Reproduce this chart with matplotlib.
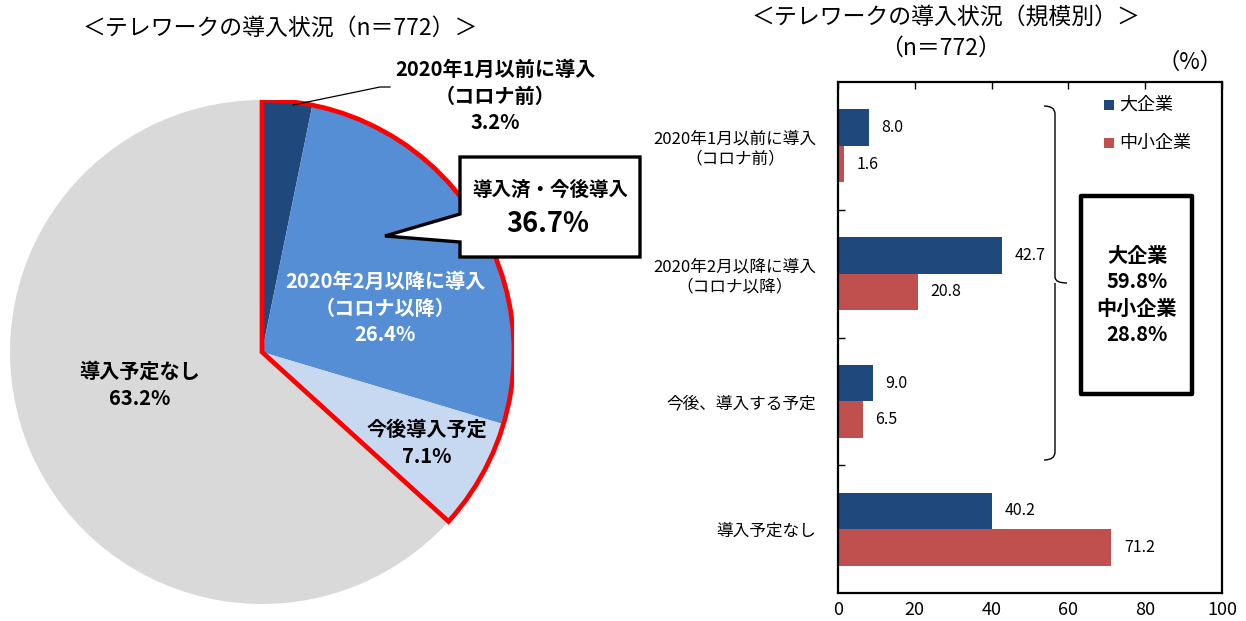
import numpy as np
import matplotlib.pyplot as plt
from matplotlib.patches import Wedge, Polygon, Rectangle, PathPatch
from matplotlib.path import Path

plt.rcParams['font.family'] = ['Noto Sans CJK JP', 'DejaVu Sans']

# pie data (全体 n=772)
pie_labels = ['2020年1月以前に導入\n（コロナ前）', '2020年2月以降に導入\n（コロナ以降）', '今後導入予定', '導入予定なし']
pie_values = [3.2, 26.4, 7.1, 63.2]
pie_colors = ['#1F497D', '#558ED5', '#C6D9F1', '#D9D9D9']

# bar data (規模別)
categories = ['2020年1月以前に導入\n（コロナ前）', '2020年2月以降に導入\n（コロナ以降）', '今後、導入する予定', '導入予定なし']
large = [8.0, 42.7, 9.0, 40.2]
small = [1.6, 20.8, 6.5, 71.2]
series_names = ['大企業', '中小企業']
bar_colors = ['#1F497D', '#C0504D']

W, H = 1246, 621
fig = plt.figure(figsize=(W / 100, H / 100), dpi=100)

# ---- pie ----
cx, cy, r = 262, 352, 252
axp = fig.add_axes([(cx - r) / W, (H - cy - r) / H, 2 * r / W, 2 * r / H])
wedges, _ = axp.pie(pie_values, colors=pie_colors, startangle=90, counterclock=False,
                    radius=1, wedgeprops=dict(linewidth=0))
axp.set_xlim(-1, 1)
axp.set_ylim(-1, 1)
axp.set_aspect('equal')
axp.axis('off')

# red outline around the introduced / planned share
total = sum(pie_values)
done_share = sum(pie_values[:3]) / total
outline = Wedge((0, 0), 1, 90 - done_share * 360, 90, fill=False, edgecolor='#FF0000',
                linewidth=3.4, joinstyle='miter', zorder=5)
axp.add_patch(outline)

# ---- bar chart ----
axb = fig.add_axes([838 / W, (H - 593) / H, (1222 - 838) / W, (593 - 82) / H])
y = np.arange(len(categories))
h = 0.286
axb.barh(y - h / 2, large, height=h, color=bar_colors[0], label=series_names[0])
axb.barh(y + h / 2, small, height=h, color=bar_colors[1], label=series_names[1])
for yi, v in zip(y - h / 2, large):
    axb.annotate(f'{v:.1f}', (v, yi), xytext=(9, 0), textcoords='offset points',
                 va='center', ha='left', fontsize=11.5)
for yi, v in zip(y + h / 2, small):
    axb.annotate(f'{v:.1f}', (v, yi), xytext=(9, 0), textcoords='offset points',
                 va='center', ha='left', fontsize=11.5)
axb.set_xlim(0, 100)
axb.set_ylim(3.5, -0.5)
axb.set_xticks(range(0, 101, 20))
axb.tick_params(axis='x', top=True, bottom=False, direction='in', length=5,
                labelsize=13, pad=6, width=1)
axb.set_yticks(y)
axb.set_yticklabels(categories, fontsize=12)
for lab in axb.get_yticklabels():
    lab.set_multialignment('center')
axb.tick_params(axis='y', left=False, pad=12)
axb.set_yticks([0.5, 1.5, 2.5], minor=True)
axb.tick_params(axis='y', which='minor', left=True, direction='in', length=5, width=1)
for s in axb.spines.values():
    s.set_linewidth(1.6)

# ---- overlay in pixel coordinates for titles / callouts ----
ov = fig.add_axes([0, 0, 1, 1], zorder=10)
ov.set_xlim(0, W)
ov.set_ylim(H, 0)
ov.axis('off')
ov.patch.set_alpha(0)

ov.text(280, 28, '＜テレワークの導入状況（n＝772）＞', ha='center', va='center', fontsize=16.5)
ov.text(946, 18, '＜テレワークの導入状況（規模別）＞', ha='center', va='center', fontsize=16.5)
ov.text(940, 48, '（n＝772）', ha='center', va='center', fontsize=16.5)
ov.text(1190, 62, '（%）', ha='center', va='center', fontsize=16)

# pie labels
ov.plot([293, 380, 390], [105, 87, 87], color='black', lw=0.9)
ov.text(495, 96, pie_labels[0] + f'\n{pie_values[0]:.1f}%', ha='center', va='center',
        fontsize=14.5, fontweight='bold', linespacing=1.35)
ov.text(385, 308, pie_labels[1] + f'\n{pie_values[1]:.1f}%', ha='center', va='center',
        fontsize=14.5, fontweight='bold', color='white', linespacing=1.35)
ov.text(427, 443, pie_labels[2] + f'\n{pie_values[2]:.1f}%', ha='center', va='center',
        fontsize=14.5, fontweight='bold', linespacing=1.35)
ov.text(140, 385, pie_labels[3] + f'\n{pie_values[3]:.1f}%', ha='center', va='center',
        fontsize=14.5, fontweight='bold', linespacing=1.35)

# callout box
call = Polygon([(460, 157), (640, 157), (640, 257), (460, 257), (460, 242),
                (385, 236), (460, 214)], closed=True, facecolor='white',
               edgecolor='black', lw=2.4, joinstyle='miter')
ov.add_patch(call)
ov.text(550, 190, '導入済・今後導入', ha='center', va='center', fontsize=14, fontweight='bold')
ov.text(548, 224, f'{sum(pie_values[:3]):.1f}%', ha='center', va='center',
        fontsize=19.5, fontweight='bold')

# legend
for i, (nm, c) in enumerate(zip(series_names, bar_colors)):
    yy = 105 + 38 * i
    ov.add_patch(Rectangle((1104, yy - 5), 10, 10, facecolor=c, edgecolor='none'))
    ov.text(1119, yy, nm, ha='left', va='center', fontsize=13)

# brace
bx, tip = 1055, 1067
verts = [(1044, 106), (bx, 106), (bx, 114), (bx, 277), (bx, 283), (tip, 283),
         (bx, 283), (bx, 289), (bx, 452), (bx, 460), (1044, 460)]
codes = [Path.MOVETO, Path.CURVE3, Path.CURVE3, Path.LINETO, Path.CURVE3, Path.CURVE3,
         Path.MOVETO, Path.CURVE3, Path.LINETO, Path.CURVE3, Path.CURVE3]
ov.add_patch(PathPatch(Path(verts, codes), fill=False, edgecolor='black', lw=1))

# summary box
ov.add_patch(Rectangle((1081, 196), 111, 198, fill=False, edgecolor='black', lw=3.2,
                       joinstyle='round'))
ov.text(1137, 295, '大企業\n59.8%\n中小企業\n28.8%', ha='center', va='center',
        fontsize=14.5, fontweight='bold', linespacing=1.33)

fig.savefig('out.png', dpi=100)
